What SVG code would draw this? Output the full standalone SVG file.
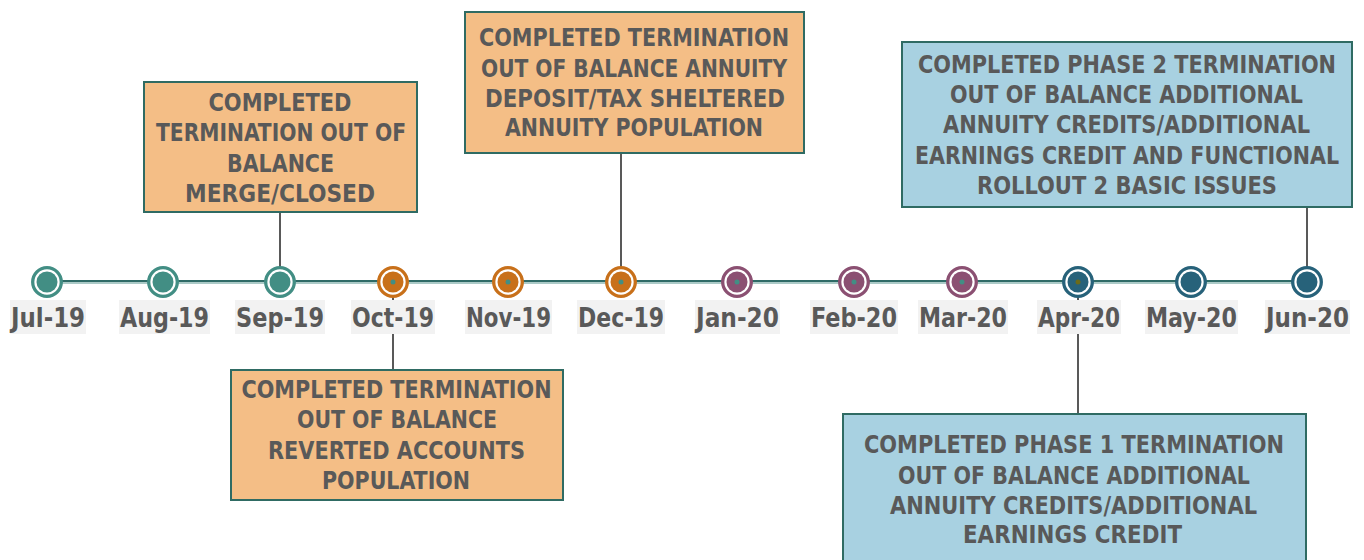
<svg xmlns="http://www.w3.org/2000/svg" width="1364" height="560" viewBox="0 0 1364 560">
<style>
text{font-family:"Liberation Sans Narrow","DejaVu Sans Condensed","Liberation Sans",sans-serif;font-weight:bold;fill:#595959;text-anchor:middle}
.bt{font-size:25px}
.lt{font-size:26px}
.lbg{fill:#F2F2F2}
.ob{fill:#F4BE86;stroke:#2F6B63;stroke-width:2}
.bb{fill:#A8D1E1;stroke:#2F6B63;stroke-width:2}
.con{stroke:#595959;stroke-width:2;fill:none}
.ring{fill:#fff;stroke-width:3.3}
</style>
<rect width="1364" height="560" fill="#fff"/>
<g id="connectors">
<line class="con" x1="280" y1="212" x2="280" y2="282"/>
<line class="con" x1="621" y1="153" x2="621" y2="282"/>
<line class="con" x1="393" y1="282" x2="393" y2="370"/>
<line class="con" x1="1078" y1="282" x2="1078" y2="414"/>
<line class="con" x1="1307" y1="207" x2="1307" y2="282"/>
</g>
<g id="timeline">
<line x1="47" y1="281" x2="1307" y2="281" stroke="#2F6B67" stroke-width="2"/>
<line x1="47" y1="283" x2="1307" y2="283" stroke="#8FB8B4" stroke-width="1.5"/>
</g>
<g id="markers">
<g id="m-jul"><circle class="ring" cx="47" cy="282" r="14.3" stroke="#428E84"/><circle cx="47" cy="282" r="10.5" fill="#428E84"/></g>
<g id="m-aug"><circle class="ring" cx="163" cy="282" r="14.3" stroke="#428E84"/><circle cx="163" cy="282" r="10.5" fill="#428E84"/></g>
<g id="m-sep"><circle class="ring" cx="280" cy="282" r="14.3" stroke="#428E84"/><circle cx="280" cy="282" r="10.5" fill="#428E84"/></g>
<g id="m-oct"><circle class="ring" cx="393" cy="282" r="14.3" stroke="#C8701A"/><circle cx="393" cy="282" r="10.5" fill="#C8701A"/><circle cx="393" cy="282" r="2.5" fill="#428E84"/></g>
<g id="m-nov"><circle class="ring" cx="508" cy="282" r="14.3" stroke="#C8701A"/><circle cx="508" cy="282" r="10.5" fill="#C8701A"/><circle cx="508" cy="282" r="2.5" fill="#428E84"/></g>
<g id="m-dec"><circle class="ring" cx="621" cy="282" r="14.3" stroke="#C8701A"/><circle cx="621" cy="282" r="10.5" fill="#C8701A"/><circle cx="621" cy="282" r="2.5" fill="#428E84"/></g>
<g id="m-jan"><circle class="ring" cx="737" cy="282" r="14.3" stroke="#8B5072"/><circle cx="737" cy="282" r="10.5" fill="#8B5072"/><circle cx="737" cy="282" r="2.5" fill="#428E84"/></g>
<g id="m-feb"><circle class="ring" cx="854" cy="282" r="14.3" stroke="#8B5072"/><circle cx="854" cy="282" r="10.5" fill="#8B5072"/><circle cx="854" cy="282" r="2.5" fill="#428E84"/></g>
<g id="m-mar"><circle class="ring" cx="962" cy="282" r="14.3" stroke="#8B5072"/><circle cx="962" cy="282" r="10.5" fill="#8B5072"/><circle cx="962" cy="282" r="2.5" fill="#428E84"/></g>
<g id="m-apr"><circle class="ring" cx="1078" cy="282" r="14.3" stroke="#27627A"/><circle cx="1078" cy="282" r="10.5" fill="#27627A"/><circle cx="1078" cy="282" r="2.5" fill="#6B6B1A"/></g>
<g id="m-may"><circle class="ring" cx="1191" cy="282" r="14.3" stroke="#27627A"/><circle cx="1191" cy="282" r="10.5" fill="#27627A"/></g>
<g id="m-jun"><circle class="ring" cx="1307" cy="282" r="14.3" stroke="#27627A"/><circle cx="1307" cy="282" r="10.5" fill="#27627A"/></g>
</g>
<g id="labels">
<g id="l-jul"><rect class="lbg" x="10" y="300" width="76" height="34"/><text class="lt" x="48" y="327" textLength="74" lengthAdjust="spacingAndGlyphs">Jul-19</text></g>
<g id="l-aug"><rect class="lbg" x="119" y="300" width="91" height="34"/><text class="lt" x="164.5" y="327" textLength="89" lengthAdjust="spacingAndGlyphs">Aug-19</text></g>
<g id="l-sep"><rect class="lbg" x="235" y="300" width="90" height="34"/><text class="lt" x="280" y="327" textLength="88" lengthAdjust="spacingAndGlyphs">Sep-19</text></g>
<g id="l-oct"><rect class="lbg" x="351" y="300" width="84" height="34"/><text class="lt" x="393" y="327" textLength="82" lengthAdjust="spacingAndGlyphs">Oct-19</text></g>
<g id="l-nov"><rect class="lbg" x="465" y="300" width="87" height="34"/><text class="lt" x="508.5" y="327" textLength="85" lengthAdjust="spacingAndGlyphs">Nov-19</text></g>
<g id="l-dec"><rect class="lbg" x="577" y="300" width="88" height="34"/><text class="lt" x="621" y="327" textLength="86" lengthAdjust="spacingAndGlyphs">Dec-19</text></g>
<g id="l-jan"><rect class="lbg" x="695" y="300" width="85" height="34"/><text class="lt" x="737.5" y="327" textLength="83" lengthAdjust="spacingAndGlyphs">Jan-20</text></g>
<g id="l-feb"><rect class="lbg" x="810" y="300" width="88" height="34"/><text class="lt" x="854" y="327" textLength="86" lengthAdjust="spacingAndGlyphs">Feb-20</text></g>
<g id="l-mar"><rect class="lbg" x="918" y="300" width="90" height="34"/><text class="lt" x="963" y="327" textLength="88" lengthAdjust="spacingAndGlyphs">Mar-20</text></g>
<g id="l-apr"><rect class="lbg" x="1037" y="300" width="84" height="34"/><text class="lt" x="1079" y="327" textLength="82" lengthAdjust="spacingAndGlyphs">Apr-20</text></g>
<g id="l-may"><rect class="lbg" x="1145" y="300" width="93" height="34"/><text class="lt" x="1191.5" y="327" textLength="91" lengthAdjust="spacingAndGlyphs">May-20</text></g>
<g id="l-jun"><rect class="lbg" x="1265" y="300" width="85" height="34"/><text class="lt" x="1307.5" y="327" textLength="83" lengthAdjust="spacingAndGlyphs">Jun-20</text></g>
</g>
<g id="box-sep">
<rect class="ob" x="144" y="82" width="273" height="130"/>
<text class="bt" x="280" y="111" textLength="143" lengthAdjust="spacingAndGlyphs">COMPLETED</text>
<text class="bt" x="281" y="141" textLength="250" lengthAdjust="spacingAndGlyphs">TERMINATION OUT OF</text>
<text class="bt" x="280.5" y="172" textLength="107" lengthAdjust="spacingAndGlyphs">BALANCE</text>
<text class="bt" x="280" y="202" textLength="190" lengthAdjust="spacingAndGlyphs">MERGE/CLOSED</text>
</g>
<g id="box-dec">
<rect class="ob" x="465" y="12" width="339" height="141"/>
<text class="bt" x="634" y="46" textLength="310" lengthAdjust="spacingAndGlyphs">COMPLETED TERMINATION</text>
<text class="bt" x="634" y="77" textLength="306" lengthAdjust="spacingAndGlyphs">OUT OF BALANCE ANNUITY</text>
<text class="bt" x="635" y="107" textLength="300" lengthAdjust="spacingAndGlyphs">DEPOSIT/TAX SHELTERED</text>
<text class="bt" x="634" y="136" textLength="258" lengthAdjust="spacingAndGlyphs">ANNUITY POPULATION</text>
</g>
<g id="box-oct">
<rect class="ob" x="231" y="370" width="332" height="130"/>
<text class="bt" x="396.5" y="398" textLength="310" lengthAdjust="spacingAndGlyphs">COMPLETED TERMINATION</text>
<text class="bt" x="397" y="428" textLength="200" lengthAdjust="spacingAndGlyphs">OUT OF BALANCE</text>
<text class="bt" x="396.5" y="459" textLength="257" lengthAdjust="spacingAndGlyphs">REVERTED ACCOUNTS</text>
<text class="bt" x="396" y="489" textLength="148" lengthAdjust="spacingAndGlyphs">POPULATION</text>
</g>
<g id="box-jun">
<rect class="bb" x="902" y="42" width="450" height="165"/>
<text class="bt" x="1127" y="73" textLength="418" lengthAdjust="spacingAndGlyphs">COMPLETED PHASE 2 TERMINATION</text>
<text class="bt" x="1126.5" y="103" textLength="353" lengthAdjust="spacingAndGlyphs">OUT OF BALANCE ADDITIONAL</text>
<text class="bt" x="1126.5" y="133" textLength="367" lengthAdjust="spacingAndGlyphs">ANNUITY CREDITS/ADDITIONAL</text>
<text class="bt" x="1127" y="164" textLength="424" lengthAdjust="spacingAndGlyphs">EARNINGS CREDIT AND FUNCTIONAL</text>
<text class="bt" x="1127" y="194" textLength="300" lengthAdjust="spacingAndGlyphs">ROLLOUT 2 BASIC ISSUES</text>
</g>
<g id="box-apr">
<rect class="bb" x="843" y="414" width="463" height="160"/>
<text class="bt" x="1074" y="453" textLength="420" lengthAdjust="spacingAndGlyphs">COMPLETED PHASE 1 TERMINATION</text>
<text class="bt" x="1074" y="484" textLength="352" lengthAdjust="spacingAndGlyphs">OUT OF BALANCE ADDITIONAL</text>
<text class="bt" x="1073.5" y="514" textLength="367" lengthAdjust="spacingAndGlyphs">ANNUITY CREDITS/ADDITIONAL</text>
<text class="bt" x="1072.5" y="543" textLength="219" lengthAdjust="spacingAndGlyphs">EARNINGS CREDIT</text>
</g>
</svg>
